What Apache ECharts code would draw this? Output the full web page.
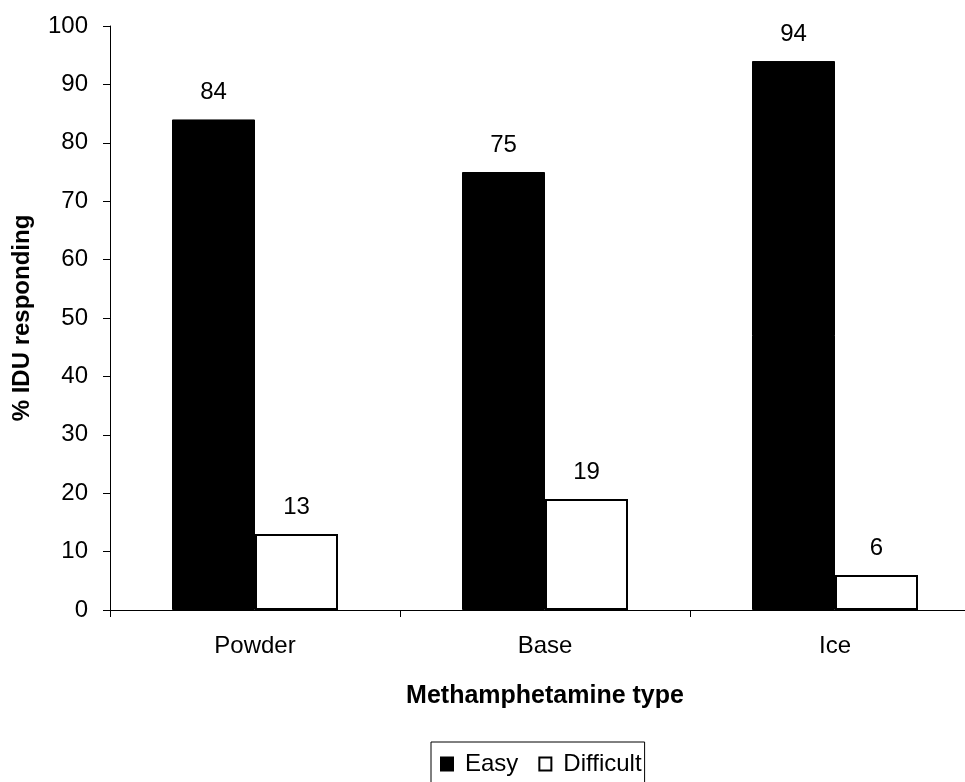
<!DOCTYPE html>
<html><head><meta charset="utf-8">
<script src="https://cdn.jsdelivr.net/npm/echarts@6/dist/echarts.min.js"></script>
<style>html,body{margin:0;padding:0;background:#fff;overflow:hidden}#c{width:980px;height:782px}</style>
</head><body><div id="c"></div>
<script>
const categories = ['Powder', 'Base', 'Ice'];
const easyValues = [84, 75, 94];
const difficultValues = [13, 19, 6];
const yTicks = [0, 10, 20, 30, 40, 50, 60, 70, 80, 90, 100];

const font = 'Liberation Sans, Arial, sans-serif';
const FS = 24;
const chart = echarts.init(document.getElementById('c'), null, {renderer: 'canvas'});
const labelStyle = {show: true, position: 'top', distance: 15, color: '#000', fontSize: FS, fontFamily: font};
chart.setOption({
  animation: false,
  backgroundColor: '#fff',
  grid: {left: 110, top: 26, right: 0, bottom: 172, containLabel: false},
  legend: {
    left: 431, top: 742,
    data: ['Easy', 'Difficult'],
    itemWidth: 12, itemHeight: 13, itemGap: 20,
    borderColor: '#000', borderWidth: 1, borderRadius: 0,
    padding: [10, 3, 14, 9],
    textStyle: {color: '#000', fontSize: FS, fontFamily: font, padding: [0, 0, 0, 7]},
    icon: 'rect'
  },
  xAxis: {
    type: 'category', data: categories,
    name: 'Methamphetamine type', nameLocation: 'middle', nameGap: 74,
    nameTextStyle: {color: '#000', fontSize: 25, fontWeight: 'bold', fontFamily: font},
    axisLine: {lineStyle: {color: '#000', width: 1}},
    axisTick: {show: true, length: 7, lineStyle: {color: '#000'}},
    axisLabel: {color: '#000', fontSize: FS, fontFamily: font, margin: 24}
  },
  yAxis: {
    type: 'value', min: 0, max: 100, interval: 10,
    name: '% IDU responding', nameLocation: 'middle', nameGap: 76, nameRotate: 90,
    nameTextStyle: {color: '#000', fontSize: FS, fontWeight: 'bold', fontFamily: font},
    axisLine: {show: true, lineStyle: {color: '#000', width: 1}},
    axisTick: {show: true, length: 7, lineStyle: {color: '#000'}},
    axisLabel: {color: '#000', fontSize: FS, fontFamily: font, margin: 22,
      formatter: v => yTicks.includes(v) ? String(v) : ''},
    splitLine: {show: false}
  },
  series: [
    {name: 'Easy', type: 'bar', data: easyValues, barWidth: 83, barGap: '0%',
     itemStyle: {color: '#000', borderColor: '#000', borderWidth: 1}, label: labelStyle},
    {name: 'Difficult', type: 'bar', data: difficultValues, barWidth: 83, barGap: '0%',
     itemStyle: {color: '#fff', borderColor: '#000', borderWidth: 2}, label: labelStyle}
  ]
});
</script></body></html>
